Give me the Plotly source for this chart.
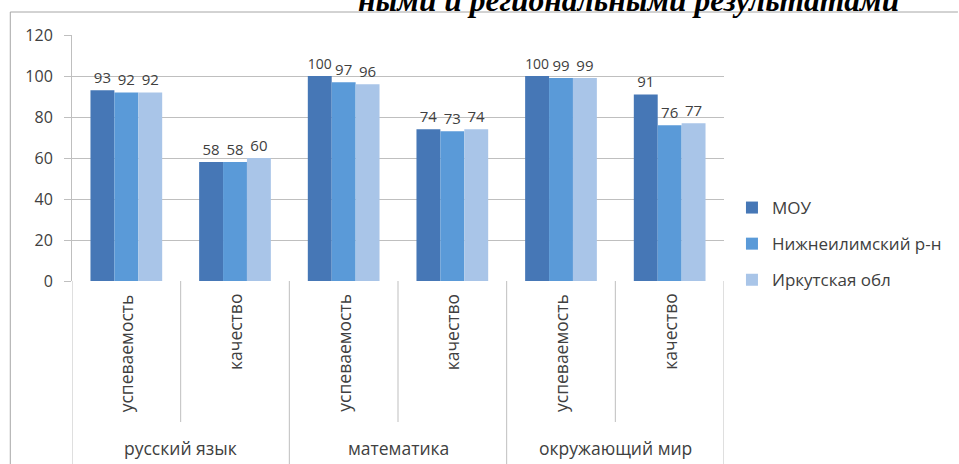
import plotly.graph_objects as go

subjects = ["русский язык", "математика", "окружающий мир"]
metrics = ["успеваемость", "качество"]
series_names = ["МОУ", "Нижнеилимский р-н", "Иркутская обл"]
mou = [93, 58, 100, 74, 100, 91]
district = [92, 58, 97, 73, 99, 76]
region = [92, 60, 96, 74, 99, 77]
y_ticks = [0, 20, 40, 60, 80, 100, 120]
title_text = "ными и региональными результатами"

colors = ["#4677B6", "#5A9AD8", "#A9C5E8"]
values = [mou, district, region]

W, H = 959, 464
PL, PR, PT, PB = 72, 727, 35, 281  # plot area pixels
pw, ph = PR - PL, PB - PT

def px_x(p):
    return (p - PL) / pw

def px_y(p):
    return (PB - p) / ph

n_cat = len(subjects) * len(metrics)
xpos = list(range(n_cat))

fig = go.Figure()
for name, vals, c in zip(series_names, values, colors):
    fig.add_trace(go.Bar(
        x=xpos, y=vals, name=name, marker=dict(color=c, line=dict(width=0)),
        text=[str(v) for v in vals], textposition="outside", cliponaxis=False,
        textfont=dict(family="Open Sans", size=15, color="#404040"),
        legendgroup=name,
    ))

annotations = []
# inner category labels (rotated)
for i in xpos:
    annotations.append(dict(
        x=i, y=px_y(292), xref="x", yref="paper", text=metrics[i % 2],
        textangle=-90, showarrow=False, xanchor="center", yanchor="top",
        font=dict(family="Open Sans", size=17.5, color="#404040"),
    ))
# group labels
for g, s in enumerate(subjects):
    annotations.append(dict(
        x=g * 2 + 0.5, y=px_y(448), xref="x", yref="paper", text=s,
        showarrow=False, xanchor="center", yanchor="middle",
        font=dict(family="Open Sans", size=17.5, color="#404040"),
    ))
# truncated title above chart
annotations.append(dict(
    x=px_x(905), y=px_y(20), xref="paper", yref="paper",
    text="<b><i>" + title_text + "</i></b>", showarrow=False,
    xanchor="right", yanchor="bottom",
    font=dict(family="Liberation Serif", size=31.5, color="#000000"),
))

shapes = []
grid_col = "#BFBFBF"
# inner separators (short)
for g in range(len(subjects)):
    xi = g * 2 + 0.5
    shapes.append(dict(type="line", xref="x", yref="paper", x0=xi, x1=xi,
                       y0=0, y1=px_y(422), line=dict(color=grid_col, width=1)))
# group separators (long)
for g in range(len(subjects) + 1):
    xi = g * 2 - 0.5
    shapes.append(dict(type="line", xref="x", yref="paper", x0=xi, x1=xi,
                       y0=0, y1=px_y(466), line=dict(color=grid_col, width=1)))
# chart border (top & left)
shapes.append(dict(type="line", xref="paper", yref="paper", x0=px_x(10), x1=px_x(962),
                   y0=px_y(12), y1=px_y(12), line=dict(color="#A6A6A6", width=1)))
shapes.append(dict(type="line", xref="paper", yref="paper", x0=px_x(10), x1=px_x(10),
                   y0=px_y(12), y1=px_y(466), line=dict(color="#A6A6A6", width=1)))

fig.update_layout(
    width=W, height=H,
    margin=dict(l=PL, r=W - PR, t=PT, b=H - PB, pad=0),
    paper_bgcolor="white", plot_bgcolor="white",
    barmode="group", bargap=0.34, bargroupgap=0,
    xaxis=dict(range=[-0.5, n_cat - 0.5], showticklabels=False, showgrid=False,
               zeroline=False, showline=False, ticks=""),
    yaxis=dict(range=[0, 120], tickvals=y_ticks, showgrid=True, gridcolor=grid_col,
               gridwidth=1, zeroline=False, showline=True, linecolor=grid_col,
               ticks="outside", ticklen=7, tickcolor=grid_col,
               tickfont=dict(family="Open Sans", size=16, color="#404040"),
               ticklabelstandoff=8),
    legend=dict(x=px_x(735), y=px_y(190), xanchor="left", yanchor="top",
                font=dict(family="Open Sans", size=17, color="#404040"),
                tracegroupgap=11, traceorder="grouped", bgcolor="rgba(0,0,0,0)"),
    annotations=annotations, shapes=shapes,
    showlegend=True,
)

fig.write_html("out.html", config={"displayModeBar": False},
               post_script="document.body.style.margin='0';")
